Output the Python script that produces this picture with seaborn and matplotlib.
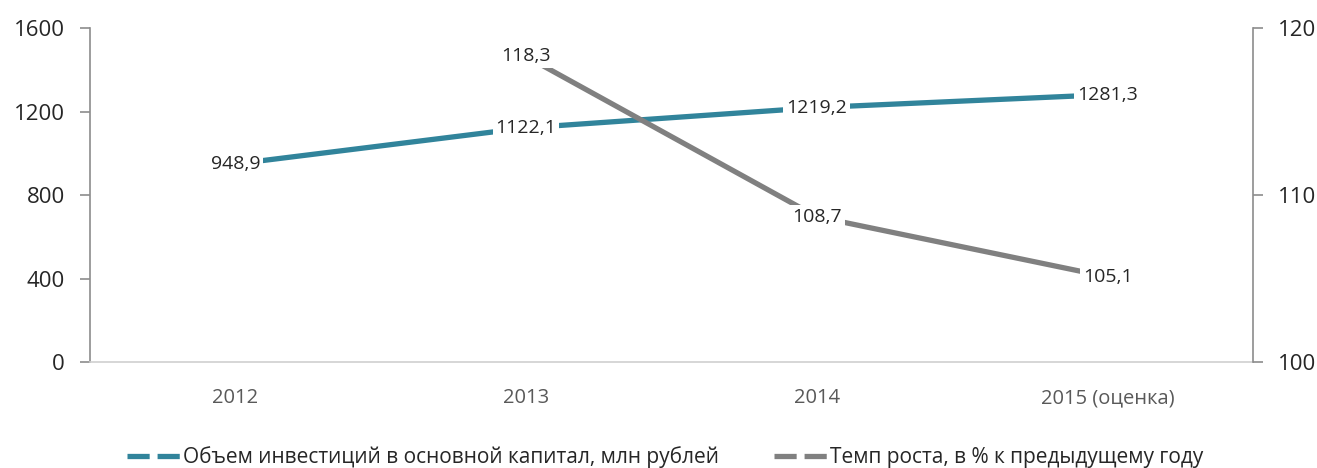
import pandas as pd
import seaborn as sns
from matplotlib import pyplot as plt
from matplotlib.lines import Line2D

sns.set_style('white')
plt.rcParams['font.family'] = ['Open Sans', 'DejaVu Sans']

# Data
years = ['2012', '2013', '2014', '2015 (оценка)']
investment = [948.9, 1122.1, 1219.2, 1281.3]
growth_years = ['2013', '2014', '2015 (оценка)']
growth = [118.3, 108.7, 105.1]

inv_name = 'Объем инвестиций в основной капитал, млн рублей'
gr_name = 'Темп роста, в % к предыдущему году'

teal = '#31849B'
grey = '#808080'

df_inv = pd.DataFrame({'year': range(len(years)), 'value': investment})
df_gr = pd.DataFrame({'year': [years.index(y) for y in growth_years], 'value': growth})

fig = plt.figure(figsize=(13.17, 4.68), dpi=100)
ax = fig.add_axes([0.0683, 0.2265, 0.8831, 0.7135])
ax2 = ax.twinx()

sns.lineplot(data=df_inv, x='year', y='value', ax=ax, color=teal, linewidth=3.8, legend=False)
sns.lineplot(data=df_gr, x='year', y='value', ax=ax2, color=grey, linewidth=3.8, legend=False)

def fmt(v):
    return ('%.1f' % v).replace('.', ',')

# value labels sit on the points, white box hides the line under them
box = dict(boxstyle='square,pad=0.15', fc='white', ec='none')
for x, v in zip(df_inv['year'], df_inv['value']):
    ax.text(x, v, fmt(v), ha='center', va='center', fontsize=14, bbox=box, zorder=5)
for x, v in zip(df_gr['year'], df_gr['value']):
    ax2.text(x, v, fmt(v), ha='center', va='center', fontsize=14, bbox=box, zorder=5)

ax.set_xlim(-0.5, 3.5)
ax.set_ylim(0, 1600)
ax.set_yticks([0, 400, 800, 1200, 1600])
ax2.set_ylim(100, 120)
ax2.set_yticks([100, 110, 120])
ax.set_xticks(range(len(years)))
ax.set_xticklabels(years)
ax.set_xlabel('')
ax.set_ylabel('')
ax2.set_ylabel('')

for a in (ax, ax2):
    for s in a.spines.values():
        s.set_visible(False)
ax.spines['left'].set_visible(True)
ax.spines['left'].set_color('#8c8c8c')
ax.spines['left'].set_linewidth(1.2)
ax.spines['bottom'].set_visible(True)
ax.spines['bottom'].set_color('#d0d0d0')
ax.spines['bottom'].set_linewidth(1.2)
ax2.spines['right'].set_visible(True)
ax2.spines['right'].set_color('#8c8c8c')
ax2.spines['right'].set_linewidth(1.2)

ax.tick_params(axis='y', length=7, width=1.2, color='#8c8c8c', labelsize=16, pad=11, left=True)
ax2.tick_params(axis='y', length=7, width=1.2, color='#8c8c8c', labelsize=16, pad=11, right=True)
ax.tick_params(axis='x', length=0, labelsize=14.5, labelcolor='#595959', pad=19)

handles = [Line2D([], [], color=teal, linewidth=3.8, linestyle=(0, (4.2, 1.5))),
           Line2D([], [], color=grey, linewidth=3.8, linestyle=(0, (4.2, 1.5)))]
fig.legend(handles, [inv_name, gr_name], loc='lower center', bbox_to_anchor=(0.505, -0.04),
           ncol=2, frameon=False, handlelength=2.6, handletextpad=0.1,
           columnspacing=2.6, prop={'size': 15})

fig.savefig('out.png', dpi=100)
